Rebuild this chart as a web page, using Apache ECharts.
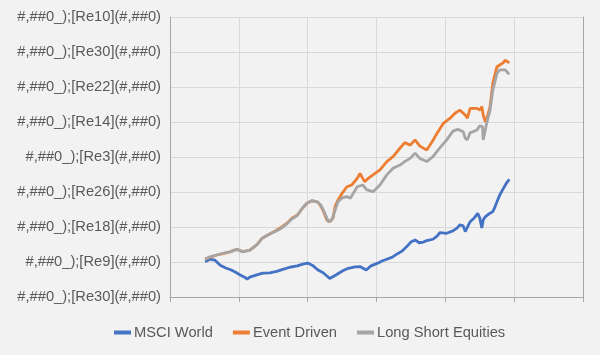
<!DOCTYPE html>
<html>
<head>
<meta charset="utf-8">
<script src="https://cdn.jsdelivr.net/npm/echarts@6/dist/echarts.min.js"></script>
<style>
html,body{margin:0;padding:0;background:#F2F2F2;}
#c{width:600px;height:355px;}
</style>
</head>
<body>
<div id="c"></div>
<script>
const seriesNames = ["MSCI World", "Event Driven", "Long Short Equities"];
const yTickLabels = [
  "#,##0_);[Re30](#,##0)",
  "#,##0_);[Re9](#,##0)",
  "#,##0_);[Re18](#,##0)",
  "#,##0_);[Re26](#,##0)",
  "#,##0_);[Re3](#,##0)",
  "#,##0_);[Re14](#,##0)",
  "#,##0_);[Re22](#,##0)",
  "#,##0_);[Re30](#,##0)",
  "#,##0_);[Re10](#,##0)"
];
const msciWorld = [
  [0.51,1.01],[0.58,1.08],[0.62,1.06],[0.65,1.06],[0.73,0.91],[0.81,0.83],[0.89,0.77],[0.94,0.72],
  [1.02,0.63],[1.09,0.56],[1.12,0.51],[1.16,0.57],[1.26,0.63],[1.35,0.68],[1.45,0.69],[1.55,0.73],
  [1.64,0.79],[1.74,0.85],[1.85,0.89],[1.93,0.94],[2.00,0.97],[2.08,0.89],[2.15,0.77],[2.22,0.70],
  [2.28,0.60],[2.32,0.53],[2.41,0.63],[2.51,0.75],[2.59,0.82],[2.69,0.86],[2.76,0.87],[2.85,0.77],
  [2.92,0.89],[3.01,0.96],[3.08,1.03],[3.15,1.08],[3.23,1.14],[3.30,1.23],[3.37,1.31],[3.44,1.44],
  [3.50,1.57],[3.56,1.63],[3.62,1.55],[3.68,1.57],[3.73,1.61],[3.82,1.65],[3.88,1.74],[3.92,1.84],
  [4.02,1.82],[4.11,1.89],[4.17,1.97],[4.21,2.06],[4.26,2.03],[4.29,1.87],[4.33,2.03],[4.36,2.15],
  [4.42,2.26],[4.47,2.39],[4.50,2.26],[4.53,1.97],[4.55,2.20],[4.58,2.29],[4.63,2.37],[4.69,2.44],
  [4.72,2.57],[4.75,2.72],[4.79,2.91],[4.84,3.09],[4.88,3.23],[4.91,3.31],[4.93,3.36]
];
const eventDriven = [
  [0.51,1.08],[0.58,1.14],[0.68,1.20],[0.77,1.24],[0.87,1.29],[0.97,1.36],[1.06,1.30],[1.16,1.34],
  [1.26,1.49],[1.34,1.68],[1.42,1.77],[1.53,1.89],[1.60,1.97],[1.70,2.11],[1.77,2.25],[1.85,2.34],
  [1.92,2.53],[1.99,2.68],[2.06,2.75],[2.14,2.72],[2.18,2.63],[2.22,2.49],[2.25,2.34],[2.28,2.20],
  [2.32,2.15],[2.37,2.26],[2.40,2.60],[2.44,2.77],[2.50,2.96],[2.57,3.15],[2.64,3.20],[2.72,3.39],
  [2.76,3.53],[2.83,3.29],[2.88,3.39],[2.95,3.49],[3.05,3.63],[3.15,3.87],[3.24,4.01],[3.34,4.25],
  [3.41,4.41],[3.49,4.34],[3.56,4.49],[3.63,4.31],[3.73,4.20],[3.81,4.44],[3.88,4.68],[3.97,4.96],
  [4.07,5.11],[4.14,5.25],[4.21,5.34],[4.29,5.20],[4.32,5.11],[4.36,5.39],[4.46,5.39],[4.50,5.34],
  [4.53,5.44],[4.55,5.20],[4.58,5.01],[4.61,5.15],[4.65,5.44],[4.69,6.11],[4.75,6.58],[4.79,6.63],
  [4.84,6.69],[4.87,6.77],[4.90,6.72],[4.93,6.69]
];
const longShortEquities = [
  [0.51,1.08],[0.58,1.15],[0.68,1.20],[0.77,1.25],[0.87,1.29],[0.97,1.36],[1.06,1.29],[1.16,1.34],
  [1.26,1.49],[1.34,1.68],[1.42,1.77],[1.53,1.87],[1.60,1.94],[1.70,2.09],[1.77,2.23],[1.85,2.33],
  [1.92,2.53],[1.99,2.68],[2.06,2.75],[2.14,2.72],[2.19,2.63],[2.25,2.39],[2.30,2.15],[2.35,2.20],
  [2.40,2.49],[2.44,2.72],[2.50,2.83],[2.57,2.87],[2.62,2.82],[2.72,3.15],[2.80,3.20],[2.86,3.06],
  [2.95,3.01],[3.05,3.20],[3.15,3.49],[3.24,3.68],[3.34,3.77],[3.41,3.87],[3.49,3.96],[3.56,4.11],
  [3.63,3.96],[3.73,3.87],[3.82,4.01],[3.92,4.26],[4.02,4.49],[4.11,4.74],[4.18,4.79],[4.26,4.72],
  [4.29,4.53],[4.32,4.49],[4.36,4.69],[4.46,4.77],[4.50,4.89],[4.54,4.87],[4.55,4.49],[4.57,4.44],
  [4.60,4.96],[4.65,5.34],[4.69,5.91],[4.75,6.39],[4.79,6.49],[4.87,6.49],[4.91,6.40],[4.93,6.37]
];
const colors = ["#4472C4", "#ED7D31", "#A5A5A5"];
const seriesData = [msciWorld, eventDriven, longShortEquities];

const chart = echarts.init(document.getElementById('c'), null, {renderer: 'canvas'});
chart.setOption({
  backgroundColor: '#F2F2F2',
  animation: false,
  color: colors,
  grid: {left: 170, right: 17, top: 17, bottom: 58, containLabel: false},
  legend: {
    top: 320,
    left: 109,
    itemGap: 20,
    itemWidth: 17,
    itemHeight: 4,
    icon: 'rect',
    textStyle: {color: '#595959', fontSize: 14.7, fontFamily: 'Liberation Sans, Arial, sans-serif', padding: [0,0,0,-2]},
    data: seriesNames
  },
  xAxis: {
    type: 'value', min: 0, max: 6, interval: 1,
    axisLine: {show: true, lineStyle: {color: '#A6A6A6', width: 1}},
    axisTick: {show: true, length: 5, lineStyle: {color: '#A6A6A6'}},
    axisLabel: {show: false},
    splitLine: {show: true, lineStyle: {color: '#D9D9D9', width: 1}}
  },
  yAxis: [{
    type: 'value', min: 0, max: 8, interval: 1,
    axisLine: {show: true, lineStyle: {color: '#A6A6A6', width: 1}},
    axisTick: {show: false},
    axisLabel: {
      color: '#595959', fontSize: 14.7, margin: 9,
      fontFamily: 'Liberation Sans, Arial, sans-serif',
      formatter: v => yTickLabels[Math.round(v)]
    },
    splitLine: {show: true, lineStyle: {color: '#D9D9D9', width: 1}}
  }, {
    type: 'value', min: 0, max: 8, interval: 1, position: 'right',
    axisLine: {show: true, lineStyle: {color: '#A6A6A6', width: 1}},
    axisTick: {show: false}, axisLabel: {show: false}, splitLine: {show: false}
  }],
  series: seriesNames.map((name, i) => ({
    name: name,
    type: 'line',
    data: seriesData[i],
    showSymbol: false,
    symbol: 'none',
    lineStyle: {width: 2.8, color: colors[i]},
    itemStyle: {color: colors[i]}
  }))
});
</script>
</body>
</html>
